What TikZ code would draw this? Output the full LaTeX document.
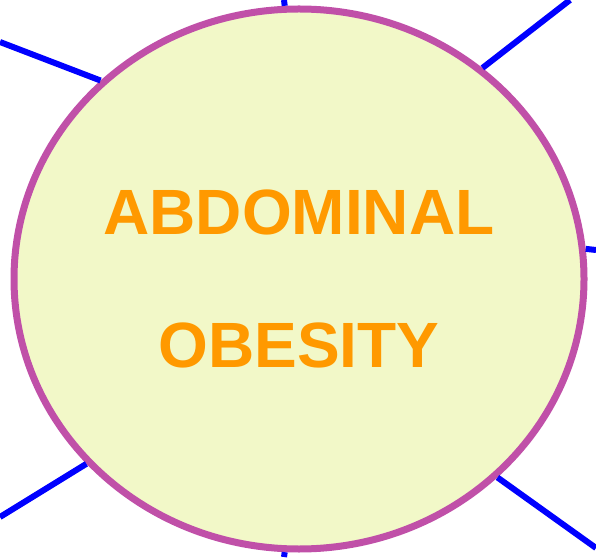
\documentclass[tikz,border=0pt]{standalone}
\usepackage{fontspec}
\setmainfont{Liberation Sans}
\usetikzlibrary{shapes.geometric}
\definecolor{rim}{RGB}{192,80,168}
\definecolor{pale}{RGB}{242,248,200}
\definecolor{label}{RGB}{255,153,0}
\begin{document}
\begin{tikzpicture}[x=1pt, y=1pt, spoke/.style={blue, line width=6pt}]
\useasboundingbox (0,0) rectangle (596,557);
\node[ellipse, draw=rim, fill=pale, line width=7pt, minimum width=570pt, minimum height=540pt,
  align=center, text=label, font=\fontsize{64}{133}\selectfont\bfseries] (ob) at (299,278)
  {ABDOMINAL\\OBESITY};
\coordinate (tl) at (0,515);
\coordinate (t) at (284,557);
\coordinate (tr) at (570,557);
\coordinate (r) at (596,307);
\coordinate (br) at (596,9);
\coordinate (b) at (284,0);
\coordinate (bl) at (0,40);
\draw[spoke] (ob.135) -- (tl);
\draw[spoke] (ob.93) -- (t);
\draw[spoke] (ob.49) -- (tr);
\draw[spoke] (ob.6) -- (r);
\draw[spoke] (ob.-45) -- (br);
\draw[spoke] (ob.-93) -- (b);
\draw[spoke] (ob.221) -- (bl);
\end{tikzpicture}
\end{document}
